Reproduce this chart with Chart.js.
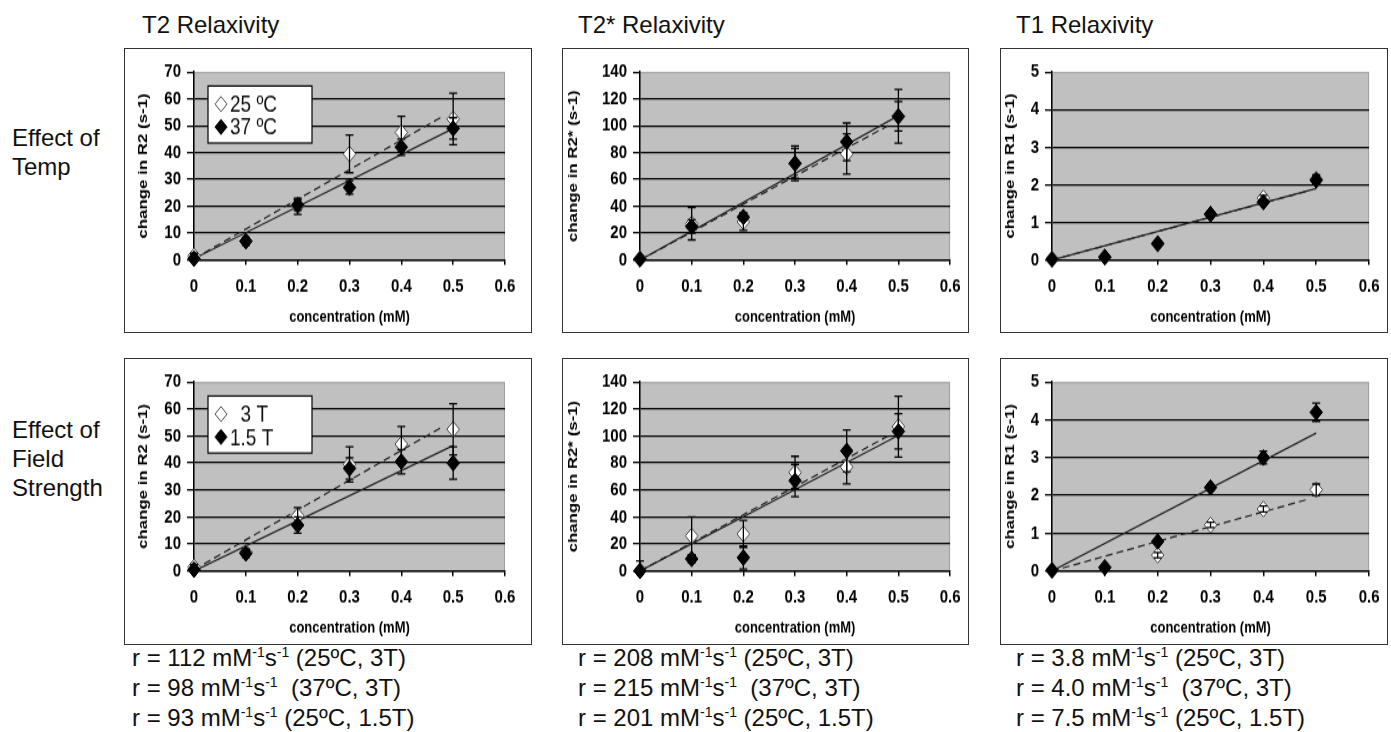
<!DOCTYPE html>
<html>
<head>
<meta charset="utf-8">
<script src="https://cdn.jsdelivr.net/npm/chart.js@4"></script>
<style>
body { margin: 0; background: #fff; width: 1391px; height: 732px; overflow: hidden; position: relative;
       font-family: "Liberation Sans", Arial, sans-serif; color: #111; }
.t { position: absolute; font-size: 24px; line-height: 29px; white-space: nowrap; }
.b { line-height: 30px; }
.box { position: absolute; border: 1.5px solid #333; box-sizing: border-box; }
canvas { position: absolute; }
sup { font-size: 14px; vertical-align: 9px; line-height: 0; }
</style>
</head>
<body>
<div class="t" style="left:142px;top:10px">T2 Relaxivity</div>
<div class="t" style="left:578px;top:10px">T2* Relaxivity</div>
<div class="t" style="left:1016px;top:10px">T1 Relaxivity</div>

<div class="t" style="left:12px;top:123px">Effect of<br>Temp</div>
<div class="t" style="left:12px;top:415px">Effect of<br>Field<br>Strength</div>

<div class="t b" style="left:132px;top:643px">r = 112 mM<sup>-1</sup>s<sup>-1</sup> (25ºC, 3T)<br>r = 98 mM<sup>-1</sup>s<sup>-1</sup> &nbsp;(37ºC, 3T)<br>r = 93 mM<sup>-1</sup>s<sup>-1</sup> (25ºC, 1.5T)</div>
<div class="t b" style="left:578px;top:643px">r = 208 mM<sup>-1</sup>s<sup>-1</sup> (25ºC, 3T)<br>r = 215 mM<sup>-1</sup>s<sup>-1</sup> &nbsp;(37ºC, 3T)<br>r = 201 mM<sup>-1</sup>s<sup>-1</sup> (25ºC, 1.5T)</div>
<div class="t b" style="left:1016px;top:643px">r = 3.8 mM<sup>-1</sup>s<sup>-1</sup> (25ºC, 3T)<br>r = 4.0 mM<sup>-1</sup>s<sup>-1</sup> &nbsp;(37ºC, 3T)<br>r = 7.5 mM<sup>-1</sup>s<sup>-1</sup> (25ºC, 1.5T)</div>

<script>
// shared axes
const conc = [0, 0.1, 0.2, 0.3, 0.4, 0.5];
const fitDashX = [0, 0.48];
const fitSolidX = [0, 0.5];
const xTickVals = [0, 0.1, 0.2, 0.3, 0.4, 0.5, 0.6];
const xTickLabels = ['0', '0.1', '0.2', '0.3', '0.4', '0.5', '0.6'];
const yTicksR2 = [0, 10, 20, 30, 40, 50, 60, 70];
const yTicksR2s = [0, 20, 40, 60, 80, 100, 120, 140];
const yTicksR1 = [0, 1, 2, 3, 4, 5];

const tempLabels = ['25 ºC', '37 ºC'];
const fieldLabels = ['  3 T', '1.5 T'];

// T2 - effect of temp
const t2Temp25 = [1.5, 7, 20, 39.5, 47.5, 52.5];
const t2Temp25Err = [1, 1, 3, 7, 6, 9.6];
const t2Temp37 = [0.5, 7, 20.5, 27, 42, 49];
const t2Temp37Err = [1, 1.5, 2, 2.5, 3, 4];
const t2Temp25Fit = [0.5, 53.5];
const t2Temp37Fit = [0.5, 49];

// T2* - effect of temp
const t2sTemp25 = [1, 27, 28.5, 72, 79, 107];
const t2sTemp25Err = [1, 12, 6.5, 13, 15, 20];
const t2sTemp37 = [0.5, 25, 32, 72, 88, 107];
const t2sTemp37Err = [1, 5, 3, 11, 14, 11];
const t2sTemp25Fit = [0, 100];
const t2sTemp37Fit = [0, 107.5];

// T1 - effect of temp
const t1Temp25 = [0.02, 0.08, 0.42, 1.22, 1.65, 2.15];
const t1Temp25Err = [0.02, 0.03, 0.05, 0.07, 0.07, 0.12];
const t1Temp37 = [0.02, 0.08, 0.44, 1.22, 1.54, 2.12];
const t1Temp37Err = [0.02, 0.03, 0.04, 0.06, 0.06, 0.1];
const t1Temp25Fit = [0, 1.82];
const t1Temp37Fit = [0, 1.9];

// T2 - effect of field strength
const t2Field3 = [1.5, 7, 20.5, 39.5, 47, 52.5];
const t2Field3Err = [1, 1, 3, 6.5, 6.5, 9.5];
const t2Field15 = [0.5, 6.5, 17, 38, 40.5, 40];
const t2Field15Err = [1, 1.5, 3, 4, 4.5, 6];
const t2Field3Fit = [0.5, 53.5];
const t2Field15Fit = [0, 46.5];

// T2* - effect of field strength
const t2sField3 = [0.5, 26, 27.5, 73, 77, 107];
const t2sField3Err = [7, 14, 10, 12, 12.5, 22.5];
const t2sField15 = [0, 9, 10, 67, 89, 103.5];
const t2sField15Err = [1, 3, 8.5, 12, 15.5, 13];
const t2sField3Fit = [0, 100];
const t2sField15Fit = [0, 100.5];

// T1 - effect of field strength
const t1Field3 = [0.02, 0.1, 0.42, 1.22, 1.64, 2.15];
const t1Field3Err = [0.02, 0.03, 0.07, 0.07, 0.08, 0.15];
const t1Field15 = [0.02, 0.09, 0.78, 2.21, 3.0, 4.2];
const t1Field15Err = [0.02, 0.03, 0.05, 0.06, 0.17, 0.24];
const t1Field3Fit = [0, 1.88];
const t1Field15Fit = [0, 3.65];

Chart.defaults.font.family = '"Liberation Sans", Arial, sans-serif';

// the original panels are stretched vertically, so each canvas is drawn short and scaled up with css
const STRETCH = 1.25;

// gray plot area, error bars, boxed legend
const panelDeco = {
    id: 'panelDeco',
    beforeDraw(chart) {
        const { ctx, chartArea: a } = chart;
        ctx.save();
        ctx.fillStyle = '#c0c0c0';
        ctx.fillRect(a.left, a.top, a.right - a.left, a.bottom - a.top);
        ctx.strokeStyle = '#a0a0a0';
        ctx.lineWidth = 1;
        ctx.strokeRect(a.left, a.top + 0.5, a.right - a.left - 0.5, a.bottom - a.top);
        ctx.restore();
    },
    afterDatasetsDraw(chart) {
        const { ctx, chartArea: a, scales: { x, y } } = chart;
        ctx.save();
        ctx.beginPath();
        ctx.rect(a.left - 10, a.top, a.right - a.left + 20, a.bottom - a.top);
        ctx.clip();
        ctx.strokeStyle = '#000';
        ctx.lineWidth = 1.3;
        chart.data.datasets.forEach(ds => {
            if (!ds.errors) return;
            ds.data.forEach((pt, i) => {
                const e = ds.errors[i];
                const px = x.getPixelForValue(pt.x);
                const y1 = y.getPixelForValue(pt.y + e);
                const y2 = y.getPixelForValue(pt.y - e);
                ctx.beginPath();
                ctx.moveTo(px, y1); ctx.lineTo(px, y2);
                ctx.moveTo(px - 4, y1); ctx.lineTo(px + 4, y1);
                ctx.moveTo(px - 4, y2); ctx.lineTo(px + 4, y2);
                ctx.stroke();
            });
        });
        ctx.restore();
    },
    afterDraw(chart, args, opts) {
        if (!opts.labels) return;
        const { ctx, chartArea: a } = chart;
        const k = opts.k;
        const bx = a.left + 14, by = a.top + 14 / k, bw = 104, bh = 57 / k;
        ctx.save();
        ctx.fillStyle = '#fff';
        ctx.fillRect(bx, by, bw, bh);
        ctx.strokeStyle = '#000';
        ctx.lineWidth = 1.2;
        ctx.strokeRect(bx, by, bw, bh);
        const ds = chart.data.datasets;
        [ds[1], ds[0]].forEach((d, i) => {
            const cy = by + (18 + i * 23) / k, cx = bx + 13;
            ctx.beginPath();
            ctx.moveTo(cx, cy - 6); ctx.lineTo(cx + 6, cy); ctx.lineTo(cx, cy + 6); ctx.lineTo(cx - 6, cy); ctx.closePath();
            ctx.fillStyle = d.backgroundColor;
            ctx.fill();
            ctx.strokeStyle = d.borderColor;
            ctx.lineWidth = 1;
            ctx.stroke();
            ctx.fillStyle = '#111';
            ctx.font = '19px "Liberation Sans", Arial, sans-serif';
            ctx.textBaseline = 'middle';
            ctx.fillText(d.label, bx + 22, cy + 1);
        });
        ctx.restore();
    }
};

const cols = [{ x: 124, w: 408, l: 194, r: 505 }, { x: 562, w: 407, l: 640, r: 952 }, { x: 1000, w: 388, l: 1052, r: 1370 }];
const rows = [{ y: 48, h: 285, t: 72, b: 260 }, { y: 358, h: 287, t: 382, b: 571 }];

const panels = [
    { c: 0, r: 0, yTicks: yTicksR2, yTitle: 'change in R2 (s-1)', tPad: 11, open: t2Temp25, openErr: t2Temp25Err, filled: t2Temp37, filledErr: t2Temp37Err, openFit: t2Temp25Fit, filledFit: t2Temp37Fit, names: tempLabels, legend: true },
    { c: 1, r: 0, yTicks: yTicksR2s, yTitle: 'change in R2* (s-1)', tPad: 3, open: t2sTemp25, openErr: t2sTemp25Err, filled: t2sTemp37, filledErr: t2sTemp37Err, openFit: t2sTemp25Fit, filledFit: t2sTemp37Fit, names: tempLabels },
    { c: 2, r: 0, yTicks: yTicksR1, yTitle: 'change in R1 (s-1)', tPad: 2, open: t1Temp25, openErr: t1Temp25Err, filled: t1Temp37, filledErr: t1Temp37Err, openFit: t1Temp25Fit, filledFit: t1Temp37Fit, names: tempLabels },
    { c: 0, r: 1, yTicks: yTicksR2, yTitle: 'change in R2 (s-1)', tPad: 11, open: t2Field3, openErr: t2Field3Err, filled: t2Field15, filledErr: t2Field15Err, openFit: t2Field3Fit, filledFit: t2Field15Fit, names: fieldLabels, legend: true },
    { c: 1, r: 1, yTicks: yTicksR2s, yTitle: 'change in R2* (s-1)', tPad: 3, open: t2sField3, openErr: t2sField3Err, filled: t2sField15, filledErr: t2sField15Err, openFit: t2sField3Fit, filledFit: t2sField15Fit, names: fieldLabels },
    { c: 2, r: 1, yTicks: yTicksR1, yTitle: 'change in R1 (s-1)', tPad: 2, open: t1Field3, openErr: t1Field3Err, filled: t1Field15, filledErr: t1Field15Err, openFit: t1Field3Fit, filledFit: t1Field15Fit, names: fieldLabels }
];

const pts = (xs, ys) => xs.map((v, i) => ({ x: v, y: ys[i] }));

panels.forEach(p => {
    const col = cols[p.c], row = rows[p.r];
    const box = document.createElement('div');
    box.className = 'box';
    Object.assign(box.style, { left: col.x + 'px', top: row.y + 'px', width: col.w + 'px', height: row.h + 'px' });
    document.body.appendChild(box);

    const ch = Math.round(row.h / STRETCH);
    const k = row.h / ch; // real stretch for this row
    const cv = document.createElement('canvas');
    cv.width = col.w; cv.height = ch;
    Object.assign(cv.style, { left: col.x + 'px', top: row.y + 'px', width: col.w + 'px', height: row.h + 'px' });
    document.body.appendChild(cv);

    const yMax = p.yTicks[p.yTicks.length - 1];
    const tickFont = { size: 15, weight: 'bold' };
    const axisBottom = (row.y + row.h - row.b) / k;

    new Chart(cv, {
        type: 'scatter',
        data: {
            datasets: [
                { label: p.names[1], data: pts(conc, p.filled), errors: p.filledErr, pointStyle: 'rectRot', pointRadius: 6.3,
                  backgroundColor: '#000', borderColor: '#000', borderWidth: 1, clip: false },
                { label: p.names[0], data: pts(conc, p.open), errors: p.openErr, pointStyle: 'rectRot', pointRadius: 6.3,
                  backgroundColor: '#fff', borderColor: '#444', borderWidth: 1, clip: false },
                { data: pts(fitSolidX, p.filledFit), showLine: true, pointRadius: 0, borderColor: '#222', borderWidth: 1.2 },
                { data: pts(fitDashX, p.openFit), showLine: true, pointRadius: 0, borderColor: '#222', borderWidth: 1.2, borderDash: [7, 4] }
            ]
        },
        options: {
            responsive: false,
            animation: false,
            devicePixelRatio: 1,
            layout: { padding: { left: 0, top: (row.t - row.y) / k, right: col.x + col.w - col.r, bottom: 0 } },
            plugins: {
                legend: { display: false },
                tooltip: { enabled: false },
                panelDeco: { labels: p.legend ? p.names : null, k: k }
            },
            scales: {
                x: {
                    type: 'linear', min: 0, max: 0.6,
                    afterBuildTicks: s => { s.ticks = xTickVals.map(v => ({ value: v })); },
                    afterFit: s => { s.height = axisBottom; },
                    ticks: { callback: (v, i) => xTickLabels[i], color: '#000', font: tickFont, padding: 8.5, maxRotation: 0, autoSkip: false },
                    grid: { drawOnChartArea: false, drawTicks: true, tickLength: 4, tickColor: '#000', lineWidth: 1.5 },
                    border: { color: '#000', width: 1.2 },
                    title: { display: true, text: 'concentration (mM)', color: '#000', font: { size: 13, weight: 'bold' }, padding: { top: 0, bottom: 5 + p.r * 0.8 } }
                },
                y: {
                    type: 'linear', min: 0, max: yMax,
                    afterBuildTicks: s => { s.ticks = p.yTicks.map(v => ({ value: v })); },
                    afterFit: s => { s.width = col.l - col.x; },
                    ticks: { callback: (v, i) => String(p.yTicks[i]), color: '#000', font: tickFont, padding: 6, autoSkip: false },
                    grid: { color: c => (c.tick && c.tick.value === yMax) ? 'rgba(0,0,0,0)' : '#000', drawTicks: true, tickLength: 7, tickColor: '#000', lineWidth: 1.3 },
                    border: { color: '#000', width: 1.5 },
                    title: { display: true, text: p.yTitle, color: '#000', font: { size: 13.5, weight: 'bold' }, padding: { top: p.tPad, bottom: 0 } }
                }
            }
        },
        plugins: [panelDeco]
    });
});
</script>
</body>
</html>
